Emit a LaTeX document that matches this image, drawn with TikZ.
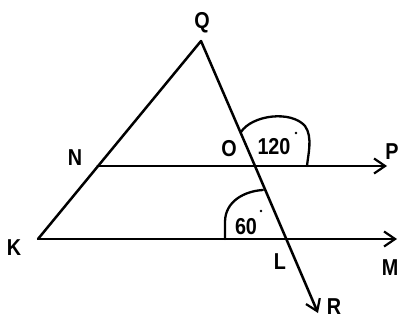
\documentclass[tikz,border=0pt]{standalone}
\usepackage{fontspec}
\setmainfont{Liberation Sans}[FakeStretch=0.86]
\usetikzlibrary{arrows.meta}
\begin{document}
\begin{tikzpicture}[x=1pt,y=-1pt,
  ln/.style={line width=2.5pt,line cap=round,line join=round},
  arr/.style={ln,-{Straight Barb[length=11pt,width=15pt,line width=2.2pt]}},
  lbl/.style={font=\bfseries\fontsize{23}{23}\selectfont,inner sep=0pt},
  dg/.style={fill=black}]
\useasboundingbox (0,0) rectangle (399,321);
\coordinate (Q) at (201,41);
\coordinate (K) at (38,239);
\coordinate (N) at (97.6,166);
\coordinate (O) at (255,166);
\coordinate (L) at (287,239);
\coordinate (P) at (387,166);
\coordinate (M) at (397,239);
\coordinate (R) at (318,313);
% lines
\draw[ln] (K) -- (Q) -- (O);
\draw[arr] (O) -- (R);
\draw[arr] (N) -- (P);
\draw[arr] (K) -- (M);
% angle arcs
\draw[ln,line width=2.3pt] (241,132) .. controls (252,115) and (291,110) .. (305,126) .. controls (313,137) and (308,155) .. (307,166);
\draw[ln,line width=2.3pt] (225,239) -- (225,222) .. controls (225,201) and (245,191) .. (263,190);
\fill[dg] (296,133) circle (1.4);
\fill[dg] (261,211) circle (1.4);
% labels
\node[lbl] (tQ) at (202,23) {Q};
\node[lbl] (tN) at (75,158) {N};
\node[lbl] (tK) at (14,248) {K};
\node[lbl] (tO) at (229,149) {O};
\node[lbl] (tL) at (280,262) {L};
\node[lbl] (tM) at (390,268) {M};
\node[lbl] (tR) at (334,307) {R};
\node[lbl] (tP) at (392,152) {P};
\node[lbl] (t120) at (274,147) {120};
\node[lbl] (t60) at (246,227) {60};
\end{tikzpicture}
\end{document}
